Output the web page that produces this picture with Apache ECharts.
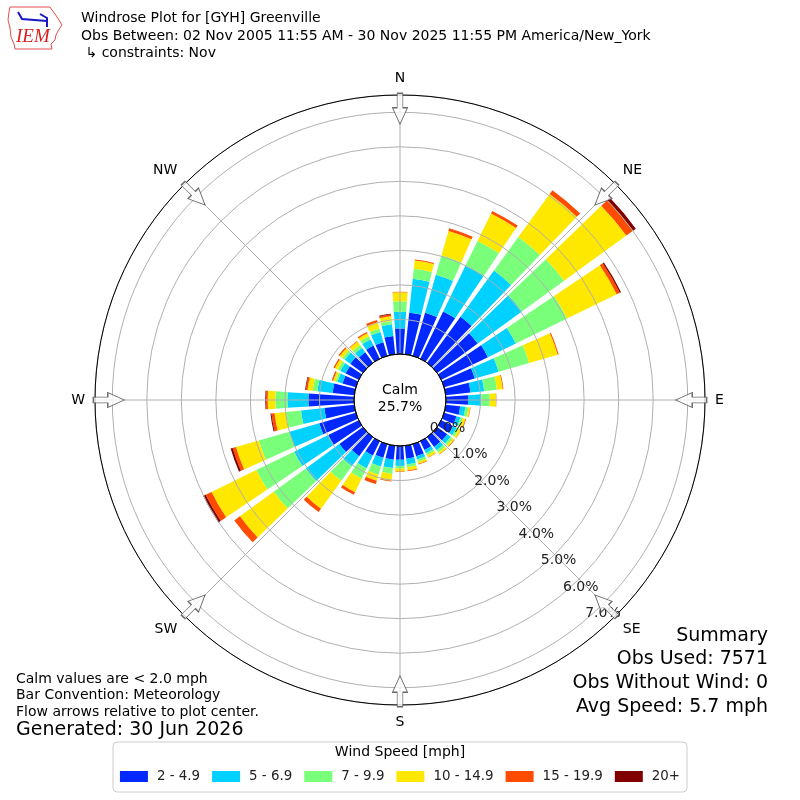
<!DOCTYPE html>
<html>
<head>
<meta charset="utf-8">
<script src="https://cdn.jsdelivr.net/npm/echarts@6/dist/echarts.min.js"></script>
<style>
html, body { margin: 0; padding: 0; background: #fff; }
#main { width: 800px; height: 800px; }
</style>
</head>
<body>
<div id="main"></div>
<script>
// wind directions (degrees), one bar per 10 deg
var directions = ['0', '10', '20', '30', '40', '50', '60', '70', '80', '90', '100', '110',
    '120', '130', '140', '150', '160', '170', '180', '190', '200', '210', '220', '230',
    '240', '250', '260', '270', '280', '290', '300', '310', '320', '330', '340', '350'];

var speedBins = ['2 - 4.9', '5 - 6.9', '7 - 9.9', '10 - 14.9', '15 - 19.9', '20+'];
var speedColors = ['#0028ff', '#00d1ff', '#7aff7a', '#ffe800', '#ff4c00', '#800000'];

// frequency (%) per direction, one array per speed bin
var spd2 = [0.74, 1.21, 1.30, 1.52, 1.65, 1.45, 1.50, 0.92, 0.72, 0.64, 0.42, 0.37,
    0.38, 0.36, 0.35, 0.28, 0.36, 0.38, 0.40, 0.41, 0.41, 0.46, 0.68, 0.84,
    0.98, 1.10, 0.87, 1.32, 0.63, 0.40, 0.42, 0.45, 0.38, 0.42, 0.41, 0.53];
var spd5 = [0.48, 0.99, 1.14, 1.47, 1.65, 1.58, 0.90, 0.72, 0.40, 0.39, 0.15, 0.12,
    0.11, 0.12, 0.12, 0.10, 0.10, 0.16, 0.18, 0.24, 0.26, 0.41, 0.36, 1.20,
    1.10, 0.90, 0.68, 0.61, 0.44, 0.15, 0.17, 0.20, 0.16, 0.20, 0.31, 0.34];
var spd7 = [0.31, 0.29, 0.59, 0.80, 1.20, 1.51, 1.65, 0.92, 0.37, 0.24, 0.09, 0.07,
    0.07, 0.07, 0.08, 0.07, 0.07, 0.08, 0.07, 0.17, 0.25, 0.33, 0.52, 1.15,
    1.22, 0.92, 0.44, 0.35, 0.14, 0.06, 0.08, 0.08, 0.10, 0.10, 0.10, 0.10];
var spd10 = [0.26, 0.24, 0.73, 0.89, 1.54, 2.23, 1.60, 0.86, 0.17, 0.18, 0.05, 0.08,
    0.07, 0.06, 0.06, 0.07, 0.06, 0.10, 0.09, 0.20, 0.18, 0.44, 1.00, 1.21,
    1.44, 0.69, 0.33, 0.22, 0.15, 0.07, 0.10, 0.10, 0.12, 0.10, 0.19, 0.14];
var spd15 = [0.01, 0.03, 0.08, 0.08, 0.14, 0.24, 0.10, 0.03, 0.02, 0.01, 0.01, 0.02,
    0.01, 0.02, 0.01, 0.01, 0.02, 0.02, 0.01, 0.02, 0.10, 0.08, 0.12, 0.20,
    0.19, 0.10, 0.09, 0.05, 0.05, 0.03, 0.04, 0.04, 0.02, 0.04, 0.07, 0.05];
var spd20 = [0, 0, 0, 0, 0, 0.10, 0.04, 0, 0, 0, 0, 0,
    0, 0, 0, 0, 0, 0, 0, 0, 0, 0, 0, 0,
    0.08, 0.06, 0.03, 0.02, 0.02, 0.01, 0, 0, 0, 0, 0, 0.02];
var speedData = [spd2, spd5, spd7, spd10, spd15, spd20];

var compassNames = ['N', 'NE', 'E', 'SE', 'S', 'SW', 'W', 'NW'];
var arrowBearings = [0, 45, 90, 135, 180, 225, 270, 315];

var FONT = 'DejaVu Sans';
var chart = echarts.init(document.getElementById('main'));

var center = ['50%', '50%'];
var radius = [46, 305];

var series = speedBins.map(function (name, i) {
    return {
        type: 'bar',
        name: name,
        coordinateSystem: 'polar',
        polarIndex: 0,
        stack: 'wind',
        barCategoryGap: '20%',
        data: speedData[i],
        itemStyle: { color: speedColors[i] },
        z: 2,
        silent: true
    };
});

// flow arrows on the outer ring
series.push({
    type: 'scatter',
    coordinateSystem: 'polar',
    polarIndex: 1,
    symbol: 'path://M5,0L11,0L11,14L16,14L8,30L0,14L5,14Z',
    symbolSize: [15, 31],
    itemStyle: { color: '#fff', borderColor: '#444', borderWidth: 1 },
    z: 8,
    silent: true,
    data: arrowBearings.map(function (b) {
        return { value: [7.1, b], symbolRotate: -b };
    })
});

var option = {
    animation: false,
    backgroundColor: '#fff',
    textStyle: { fontFamily: FONT },
    polar: [
        { center: center, radius: radius },
        { center: center, radius: radius },
        { center: center, radius: radius },
        { center: center, radius: [0, 46] }
    ],
    angleAxis: [
        {
            polarIndex: 0, type: 'category', data: directions,
            startAngle: 95, clockwise: true,
            axisLine: { show: false }, axisTick: { show: false },
            axisLabel: { show: false }, splitLine: { show: false }
        },
        {
            polarIndex: 1, type: 'value', min: 0, max: 360, interval: 45,
            startAngle: 90, clockwise: true, z: 5,
            axisLine: { show: true, lineStyle: { color: '#000', width: 1 } },
            axisTick: { show: false },
            axisLabel: {
                margin: 10, fontSize: 14, color: '#000', fontFamily: FONT,
                align: 'center', verticalAlign: 'middle',
                formatter: function (v) { return compassNames[Math.round(v / 45) % 8]; }
            },
            splitLine: { show: true, lineStyle: { color: '#b0b0b0', width: 1 } }
        },
        {
            polarIndex: 2, type: 'value', min: 0, max: 360,
            startAngle: -50, clockwise: true,
            axisLine: { show: false }, axisTick: { show: false },
            axisLabel: { show: false }, splitLine: { show: false }
        },
        {
            polarIndex: 3, type: 'value', min: 0, max: 360, startAngle: 90, z: 7,
            axisLine: { show: true, lineStyle: { color: '#000', width: 1 } },
            axisTick: { show: false }, axisLabel: { show: false }, splitLine: { show: false }
        }
    ],
    radiusAxis: [
        { polarIndex: 0, type: 'value', min: 0, max: 7.5, show: false },
        {
            polarIndex: 1, type: 'value', min: 0, max: 7.5, interval: 1, z: 5,
            axisLine: { show: false }, axisTick: { show: false }, axisLabel: { show: false },
            splitLine: { show: true, lineStyle: { color: '#b0b0b0', width: 1 } }
        },
        {
            polarIndex: 2, type: 'value', min: 0, max: 7.5, interval: 1, z: 6,
            axisLine: { show: false }, axisTick: { show: false }, splitLine: { show: false },
            axisLabel: {
                margin: 0, fontSize: 14, lineHeight: 14, color: '#222', fontFamily: FONT,
                align: 'center', verticalAlign: 'bottom',
                padding: [0, 0, 0, 36],
                formatter: function (v) { return v > 7 ? '' : v.toFixed(1) + '%'; }
            }
        },
        { polarIndex: 3, type: 'value', show: false }
    ],
    legend: {
        data: speedBins,
        selectedMode: false,
        icon: 'rect',
        itemWidth: 28,
        itemHeight: 11,
        itemGap: 12,
        left: 'center',
        top: 765,
        textStyle: { fontSize: 13.4, color: '#222', fontFamily: FONT, padding: [0, 0, 0, 4] }
    },
    series: series,
    graphic: [
        // IEM logo (rough)
        {
            type: 'polyline', silent: true,
            shape: { points: [[10, 7], [50, 7], [52, 10], [55, 14], [59, 20], [62, 25], [58, 31], [56, 35], [55, 40], [51, 44], [52, 49], [15, 49], [14, 44], [11, 37], [10, 28], [8, 20], [9, 12], [10, 7]] },
            style: { stroke: '#e05050', lineWidth: 1, fill: null }
        },
        {
            type: 'polyline', silent: true,
            shape: { points: [[18, 12], [22, 19], [47, 21]] },
            style: { stroke: '#1818c8', lineWidth: 2, fill: null }
        },
        {
            type: 'polyline', silent: true,
            shape: { points: [[40, 14], [47, 18], [47, 27]] },
            style: { stroke: '#1818c8', lineWidth: 2, fill: null }
        },
        {
            type: 'text', left: 16, top: 27, silent: true,
            style: { text: 'IEM', font: 'italic 19px "Liberation Serif"', fill: '#d42020' }
        },
        // header
        {
            type: 'text', left: 81, top: 11, silent: true,
            style: { text: 'Windrose Plot for [GYH] Greenville', font: '14px "DejaVu Sans"', fill: '#000' }
        },
        {
            type: 'text', left: 81, top: 29, silent: true,
            style: { text: 'Obs Between: 02 Nov 2005 11:55 AM - 30 Nov 2025 11:55 PM America/New_York', font: '14px "DejaVu Sans"', fill: '#000' }
        },
        {
            type: 'text', left: 81, top: 46, silent: true,
            style: { text: ' \u21b3 constraints: Nov', font: '14px "DejaVu Sans"', fill: '#000' }
        },
        // calm
        {
            type: 'text', left: 'center', top: 382, silent: true, z: 20,
            style: { text: 'Calm\n25.7%', align: 'center', textAlign: 'center', lineHeight: 17, font: '14px "DejaVu Sans"', fill: '#000' }
        },
        // notes bottom left
        {
            type: 'text', left: 16, top: 671, silent: true,
            style: { text: 'Calm values are < 2.0 mph\nBar Convention: Meteorology\nFlow arrows relative to plot center.', lineHeight: 16.5, font: '14px "DejaVu Sans"', fill: '#000' }
        },
        {
            type: 'text', left: 16, top: 721, silent: true,
            style: { text: 'Generated: 30 Jun 2026', font: '19px "DejaVu Sans"', fill: '#000' }
        },
        // summary bottom right
        {
            type: 'text', right: 32, top: 624, silent: true,
            style: { text: 'Summary\nObs Used: 7571\nObs Without Wind: 0\nAvg Speed: 5.7 mph', align: 'right', textAlign: 'right', lineHeight: 23.7, font: '19px "DejaVu Sans"', fill: '#000' }
        },
        // legend frame + title
        {
            type: 'rect', silent: true, z: -1,
            shape: { x: 113, y: 742, width: 574, height: 50, r: 4 },
            style: { fill: '#fff', stroke: '#cccccc', lineWidth: 1 }
        },
        {
            type: 'text', left: 'center', top: 745, silent: true,
            style: { text: 'Wind Speed [mph]', font: '14px "DejaVu Sans"', fill: '#000' }
        }
    ]
};

chart.setOption(option);
</script>
</body>
</html>
